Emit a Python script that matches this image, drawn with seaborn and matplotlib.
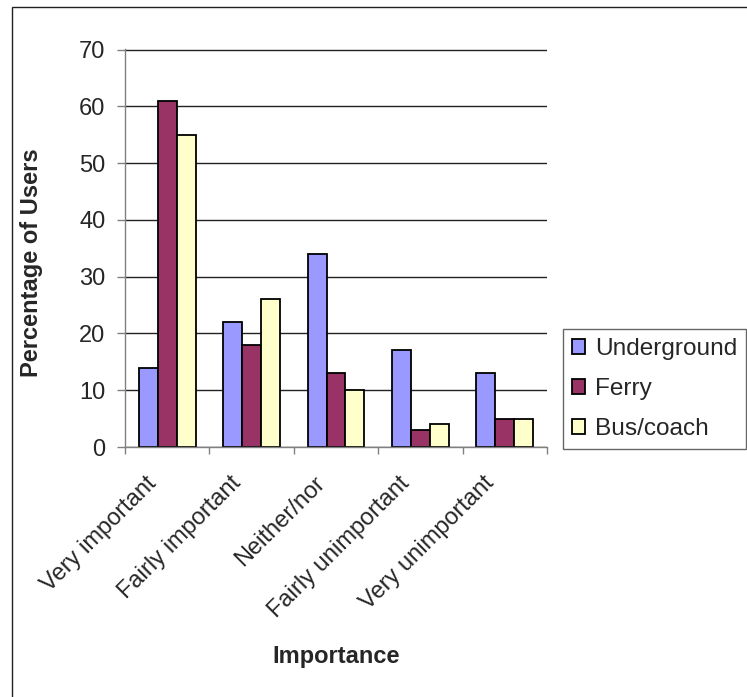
import matplotlib
matplotlib.use("Agg")
import matplotlib.pyplot as plt
from matplotlib.patches import Rectangle
from matplotlib.transforms import ScaledTranslation
import pandas as pd
import seaborn as sns

# Survey results: share of users rating each importance level, per transport mode
categories = ["Very important", "Fairly important", "Neither/nor",
              "Fairly unimportant", "Very unimportant"]
underground = [14, 22, 34, 17, 13]
ferry = [61, 18, 13, 3, 5]
bus_coach = [55, 26, 10, 4, 5]
modes = ["Underground", "Ferry", "Bus/coach"]
colors = ["#9999FF", "#993366", "#FFFFCC"]
y_ticks = [0, 10, 20, 30, 40, 50, 60, 70]

rows = []
for mode, values in zip(modes, [underground, ferry, bus_coach]):
    for cat, v in zip(categories, values):
        rows.append({"Importance": cat, "Percentage": v, "Mode": mode})
df = pd.DataFrame(rows)

sns.set_theme(style="white")
plt.rcParams["font.family"] = ["Liberation Sans", "DejaVu Sans"]

W, H = 747, 697
fig = plt.figure(figsize=(W / 100, H / 100), dpi=100)
ax = fig.add_axes([125 / W, 1 - 447 / H, 422 / W, 398 / H])

sns.barplot(data=df, x="Importance", y="Percentage", hue="Mode",
            order=categories, hue_order=modes, palette=colors,
            saturation=1, width=0.675, gap=0, edgecolor="black",
            linewidth=1.3, ax=ax, legend=True)

ax.set_xlim(-0.5, 4.5)
ax.set_ylim(0, 70.1)
ax.set_yticks(y_ticks)
ax.set_axisbelow(True)
ax.yaxis.grid(True, color="#222222", linewidth=1.0)
ax.xaxis.grid(False)

for side in ["top", "right"]:
    ax.spines[side].set_visible(False)
for side in ["left", "bottom"]:
    ax.spines[side].set_color("#808080")
    ax.spines[side].set_linewidth(1.0)

ax.tick_params(axis="y", which="major", direction="out", length=6,
               width=1, color="#808080", labelsize=17, pad=8, left=True)
# category separators as minor ticks, labels at category centers
ax.set_xticks([i - 0.5 for i in range(len(categories) + 1)], minor=True)
ax.tick_params(axis="x", which="minor", direction="out", length=5,
               width=1, color="#808080", bottom=True)
ax.tick_params(axis="x", which="major", length=0, labelsize=17, pad=26)
ax.set_xticks(range(len(categories)))
ax.set_xticklabels(categories, rotation=45, ha="right", va="center",
                   rotation_mode="anchor")
shift = ScaledTranslation(-14 / 100, 3 / 100, fig.dpi_scale_trans)
for lbl in ax.get_xticklabels():
    lbl.set_transform(lbl.get_transform() + shift)

ax.set_xlabel("Importance", fontsize=17, fontweight="bold")
ax.xaxis.label.set_va("center")
ax.xaxis.set_label_coords(0.5, -0.5276)
ax.set_ylabel("Percentage of Users", fontsize=17, fontweight="bold")
ax.yaxis.label.set_va("center")
ax.yaxis.set_label_coords(-0.2204, 0.4636)

leg = ax.legend(loc="lower left", bbox_to_anchor=(563 / W, 1 - 449 / H),
                bbox_transform=fig.transFigure, borderaxespad=0,
                fontsize=17.6, frameon=True, fancybox=False,
                handlelength=0.53, handleheight=0.53, handletextpad=0.43,
                labelspacing=0.74, borderpad=0.36)
leg.get_frame().set_edgecolor("#404040")
leg.get_frame().set_linewidth(1.0)
for h in leg.legend_handles:
    h.set_edgecolor("black")
    h.set_linewidth(1.3)

# chart area border
fig.add_artist(Rectangle((12 / W, -0.1), 1.2, 1.1 - 7 / H,
                         transform=fig.transFigure, fill=False,
                         edgecolor="#202020", linewidth=1.0))

fig.savefig("out.png", dpi=100, facecolor="white")
